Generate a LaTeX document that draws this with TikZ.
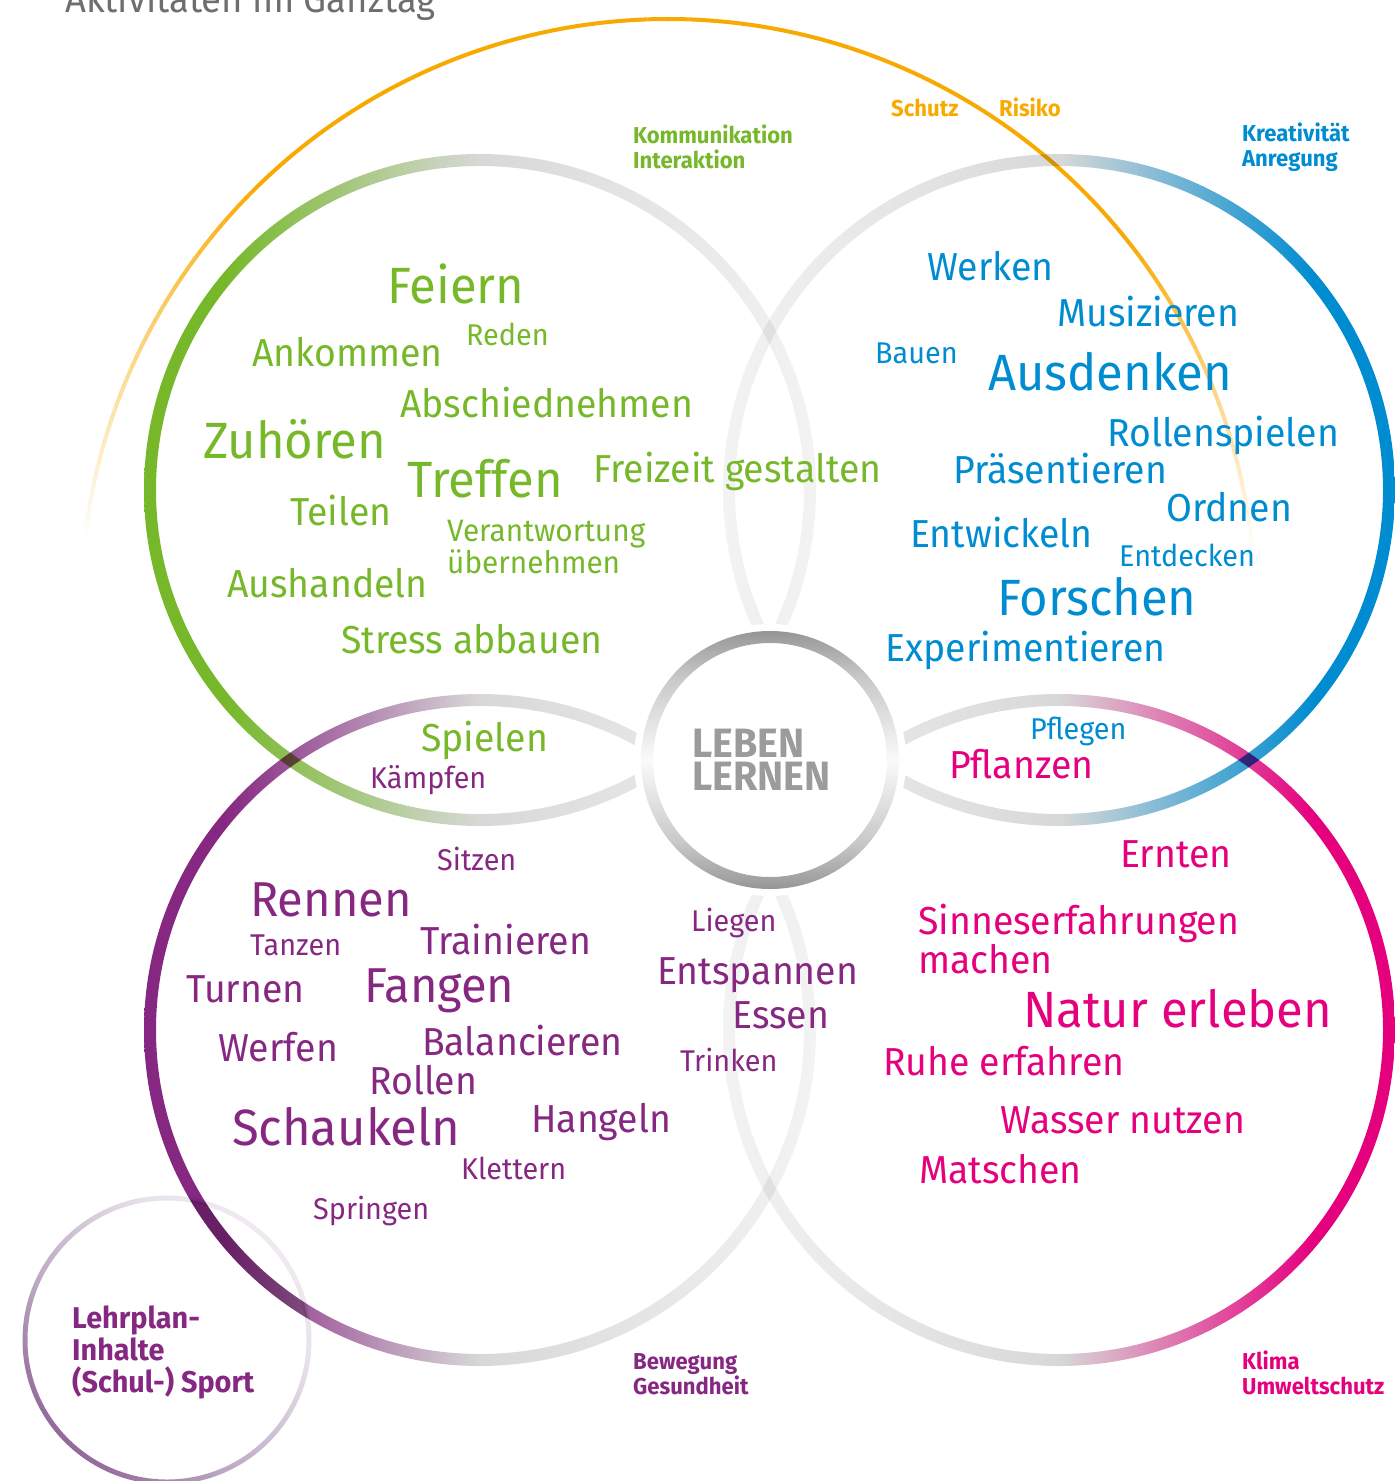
\documentclass[tikz,border=0pt]{standalone}
\usepackage{fontspec}
\setmainfont{Fira Sans}[FakeStretch=0.96]
\usetikzlibrary{positioning}

\definecolor{grn}{RGB}{118,184,42}
\definecolor{blu}{RGB}{0,140,208}
\definecolor{pur}{RGB}{134,40,130}
\definecolor{pnk}{RGB}{229,0,126}
\definecolor{org}{RGB}{248,170,0}
\definecolor{ringgray}{RGB}{216,216,216}
\definecolor{ringlight}{RGB}{243,243,243}
\definecolor{hubdark}{RGB}{150,150,150}
\definecolor{hubmid}{RGB}{200,200,200}
\definecolor{hublight}{RGB}{250,250,250}
\definecolor{hubtext}{RGB}{155,155,155}
\definecolor{titlegray}{RGB}{110,110,110}
\definecolor{sportdark}{RGB}{134,85,143}
\definecolor{sportmid}{RGB}{185,166,191}
\definecolor{sportlight}{RGB}{232,226,234}

% ring shadings: colour on the outer side, grey towards the middle
\pgfdeclarehorizontalshading{greenring}{100bp}{color(0bp)=(grn); color(31bp)=(grn);
  color(50bp)=(ringgray); color(75bp)=(ringlight); color(100bp)=(ringlight)}
\pgfdeclarehorizontalshading{purplering}{100bp}{color(0bp)=(pur); color(31bp)=(pur);
  color(50bp)=(ringgray); color(75bp)=(ringlight); color(100bp)=(ringlight)}
\pgfdeclarehorizontalshading{bluering}{100bp}{color(0bp)=(ringlight); color(25bp)=(ringlight);
  color(50bp)=(ringgray); color(69bp)=(blu); color(100bp)=(blu)}
\pgfdeclarehorizontalshading{pinkring}{100bp}{color(0bp)=(ringlight); color(25bp)=(ringlight);
  color(50bp)=(ringgray); color(69bp)=(pnk); color(100bp)=(pnk)}
\pgfdeclareverticalshading{hubring}{100bp}{color(0bp)=(hubdark); color(25bp)=(hubdark);
  color(34bp)=(hubmid); color(50bp)=(hublight); color(66bp)=(hubmid); color(75bp)=(hubdark);
  color(100bp)=(hubdark)}
\pgfdeclarehorizontalshading{sportring}{100bp}{color(0bp)=(sportdark); color(20bp)=(sportdark);
  color(40bp)=(sportmid); color(65bp)=(sportlight); color(100bp)=(white)}

\newcommand{\bigring}[2]{\shade[shading=#2, even odd rule] (#1) circle[radius=336] circle[radius=324];}

\begin{document}
\begin{tikzpicture}[x=1pt, y=-1pt,
  word/.style={inner sep=0pt, anchor=base west},
  lg/.style={word, font=\fontsize{51}{51}\selectfont},
  md/.style={word, font=\fontsize{39}{39}\selectfont},
  sm/.style={word, font=\fontsize{30}{30}\selectfont},
  tag/.style={word, align=left, font=\bfseries\fontsize{23}{25}\selectfont},
]
\clip (0,0) rectangle (1395,1481);

% === Rings ===
\coordinate (sozial) at (480,490);
\coordinate (kreativ) at (1059,490);
\coordinate (bewegung) at (480,1030);
\coordinate (natur) at (1059,1030);
\coordinate (hub) at (770,760);
\coordinate (sport) at (167,1340);

\begin{scope}[blend mode=multiply]
  \bigring{sozial}{greenring}
  \bigring{kreativ}{bluering}
  \bigring{bewegung}{purplering}
  \bigring{natur}{pinkring}
  \shade[shading=sportring, shading angle=45, even odd rule]
    (sport) circle[radius=144.5] circle[radius=139.5];
  \begin{scope}
    \clip (sport) circle[radius=142];
    \fill[black, opacity=.22, even odd rule] (bewegung) circle[radius=336] circle[radius=324];
  \end{scope}
  % orange arc, fading out at both ends
  \foreach \a in {173,...,7} {
    \pgfmathsetmacro\p{min(100,(\a-6)*3,(174-\a)*2.5)}
    \draw[org!\p!white, line width=4pt] (668,606) ++(-\a:587) arc[start angle=-\a, end angle=-\a+1, radius=587];
  }
\end{scope}

% === Centre ===
\fill[white] (hub) circle[radius=136];
\shade[shading=hubring, even odd rule] (hub) circle[radius=129] circle[radius=117];
\node[word, align=left, text=hubtext, font=\bfseries\fontsize{41}{33}\selectfont] (leben) at (692,790) {LEBEN\\LERNEN};

% === Title ===
\node[word, text=titlegray, font=\fontsize{38}{38}\selectfont] (title) at (65,12) {Aktivitäten im Ganztag};

% === Headings ===
\node[tag, text=grn] (kommunikation) at (633,168) {Kommunikation\\Interaktion};
\node[tag, text=org] (schutz) at (891,116) {Schutz};
\node[tag, text=org] (risiko) at (999,116) {Risiko};
\node[tag, text=blu] (kreativitaet) at (1242,166) {Kreativität\\Anregung};
\node[tag, text=pur] (gesundheit) at (633,1394) {Bewegung\\Gesundheit};
\node[tag, text=pnk] (klima) at (1242,1394) {Klima\\Umweltschutz};
\node[word, align=left, text=pur, font=\bfseries\fontsize{30}{32}\selectfont] (lehrplan) at (72,1392) {Lehrplan-\\Inhalte\\(Schul-) Sport};

% === Words: green ===
\begin{scope}[text=grn]
  \node[lg] (feiern) at (387,303) {Feiern};
  \node[sm] (reden) at (466,345) {Reden};
  \node[md] (ankommen) at (252,366) {Ankommen};
  \node[md] (abschied) at (400,417) {Abschiednehmen};
  \node[lg] (zuhoeren) at (203,458) {Zuhören};
  \node[lg] (treffen) at (407,497) {Treffen};
  \node[md] (freizeit) at (593,482) {Freizeit gestalten};
  \node[md] (teilen) at (290,525) {Teilen};
  \node[sm, align=left, font=\fontsize{31}{32}\selectfont] (verantwortung) at (447,573) {Verantwortung\\übernehmen};
  \node[md] (aushandeln) at (227,597) {Aushandeln};
  \node[md] (stress) at (341,653) {Stress abbauen};
  \node[md] (spielen) at (421,751) {Spielen};
\end{scope}

% === Words: blue ===
\begin{scope}[text=blu]
  \node[md] (werken) at (927,280) {Werken};
  \node[md] (musizieren) at (1057,326) {Musizieren};
  \node[sm] (bauen) at (875,363) {Bauen};
  \node[lg] (ausdenken) at (988,390) {Ausdenken};
  \node[md] (rollenspielen) at (1107,446) {Rollenspielen};
  \node[md] (praesentieren) at (953,483) {Präsentieren};
  \node[md] (ordnen) at (1166,521) {Ordnen};
  \node[md] (entwickeln) at (910,547) {Entwickeln};
  \node[sm] (entdecken) at (1119,566) {Entdecken};
  \node[lg] (forschen) at (997,615) {Forschen};
  \node[md] (experimentieren) at (885,661) {Experimentieren};
  \node[sm] (pflegen) at (1030,739) {Pflegen};
\end{scope}

% === Words: pink ===
\begin{scope}[text=pnk]
  \node[md] (pflanzen) at (949,778) {Pflanzen};
  \node[md] (ernten) at (1120,867) {Ernten};
  \node[md, align=left, font=\fontsize{39}{33}\selectfont] (sinne) at (918,973) {Sinneserfahrungen\\machen};
  \node[lg] (naturerleben) at (1023,1027) {Natur erleben};
  \node[md] (ruhe) at (883,1075) {Ruhe erfahren};
  \node[md] (wasser) at (1000,1133) {Wasser nutzen};
  \node[md] (matschen) at (919,1183) {Matschen};
\end{scope}

% === Words: purple ===
\begin{scope}[text=pur]
  \node[sm] (kaempfen) at (370,788) {Kämpfen};
  \node[sm] (sitzen) at (437,870) {Sitzen};
  \node[lg, font=\fontsize{49}{49}\selectfont] (rennen) at (250,916) {Rennen};
  \node[sm] (tanzen) at (250,955) {Tanzen};
  \node[md] (trainieren) at (420,954) {Trainieren};
  \node[sm] (liegen) at (691,931) {Liegen};
  \node[md] (entspannen) at (657,984) {Entspannen};
  \node[md] (turnen) at (186,1002) {Turnen};
  \node[lg, font=\fontsize{49}{49}\selectfont] (fangen) at (364,1002) {Fangen};
  \node[md] (essen) at (732,1028) {Essen};
  \node[md] (werfen) at (218,1061) {Werfen};
  \node[md] (balancieren) at (422,1055) {Balancieren};
  \node[sm] (trinken) at (680,1071) {Trinken};
  \node[md] (rollen) at (369,1094) {Rollen};
  \node[md] (hangeln) at (531,1132) {Hangeln};
  \node[lg] (schaukeln) at (232,1145) {Schaukeln};
  \node[sm] (klettern) at (461,1179) {Klettern};
  \node[sm] (springen) at (313,1219) {Springen};
\end{scope}

\end{tikzpicture}
\end{document}
